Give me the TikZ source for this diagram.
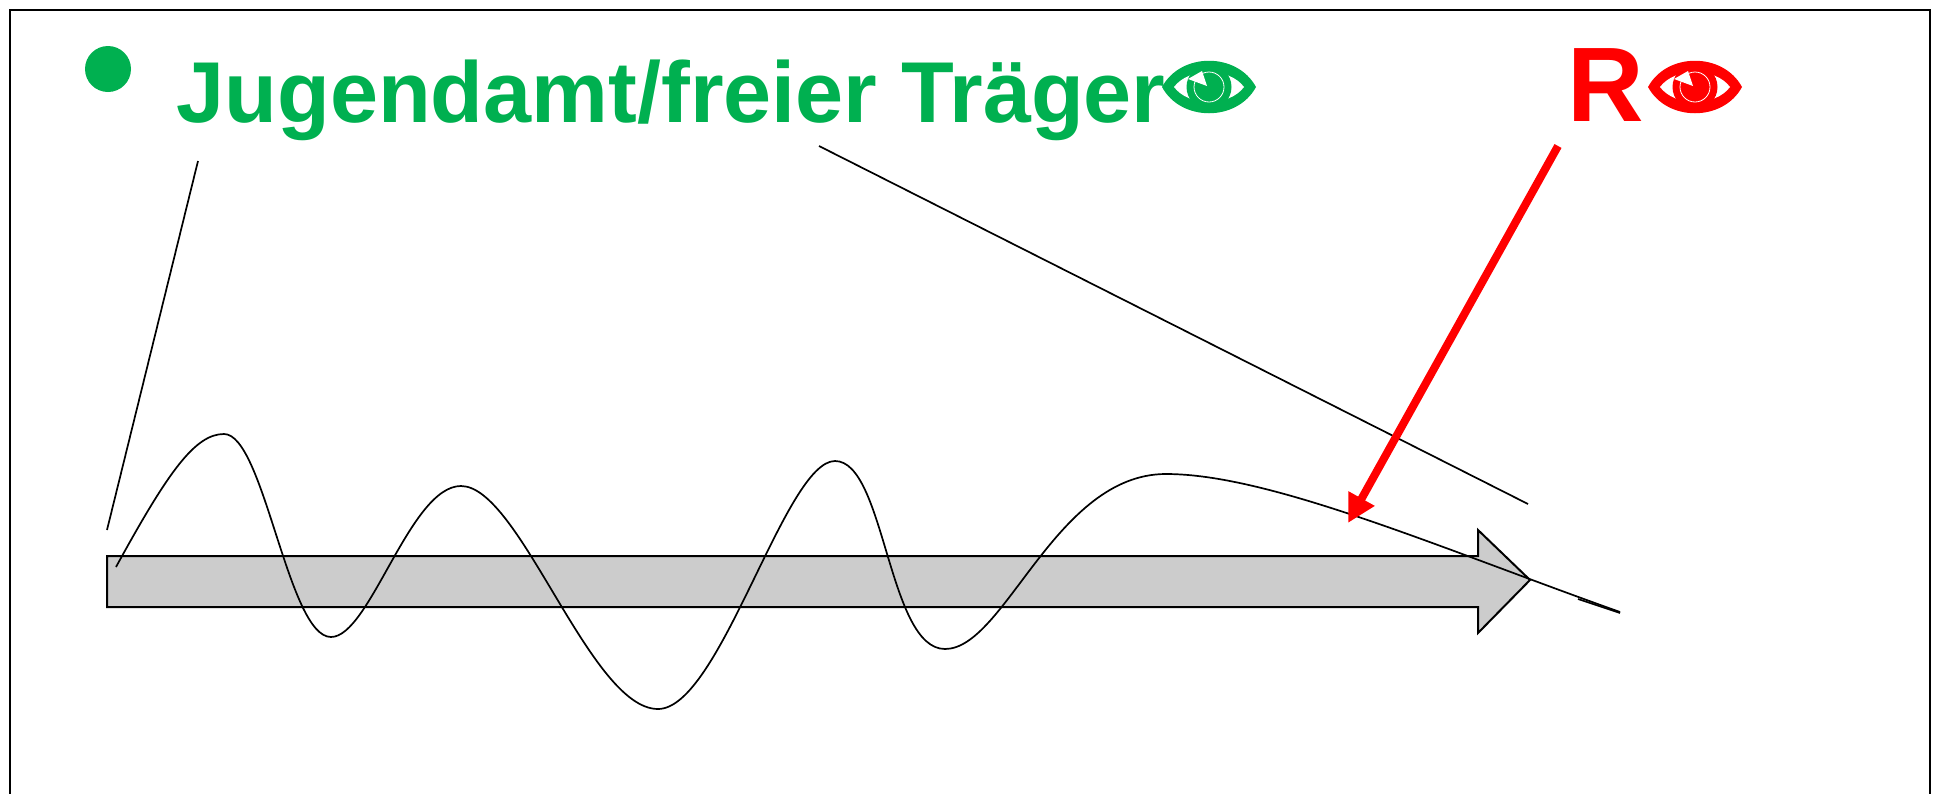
\documentclass[tikz,border=0pt]{standalone}
\usepackage{fontspec}
\setmainfont{Liberation Sans}
\usetikzlibrary{arrows.meta,calc}
\definecolor{traegergreen}{RGB}{0,176,80}

\tikzset{
  eyeicon/.pic={
    \fill[pic actions] (-47,0) .. controls (-28,-35) and (28,-35) .. (47,0)
      .. controls (28,35) and (-28,35) .. (-47,0) -- cycle;
    \fill[white] (-35,0) .. controls (-20,-20) and (20,-20) .. (35,0)
      .. controls (20,20) and (-20,20) .. (-35,0) -- cycle;
    \fill[pic actions] (0,0) circle (22.5);
    \fill[white] (-21,-8) -- (-7,-16) -- (-2,-1) -- cycle;
    \draw[white,line width=.4pt] (0,0) circle (15);
  }
}

\begin{document}
\begin{tikzpicture}[
  x=.5pt,y=-.5pt,>=Stealth,
  thinline/.style={black,line width=.85pt},
  bigarrow/.style={black,fill=black!20,line width=1pt,line join=miter},
  labeltext/.style={font=\bfseries\fontsize{43.2}{50}\selectfont,anchor=base west,inner sep=0pt}
]
\useasboundingbox (0,0) rectangle (1939,793);
% frame runs off below the page
\draw[black,line width=1.1pt] (10,800) -- (10,10) -- (1930,10) -- (1930,800);

\fill[traegergreen] (108,69) circle (23);
\node[labeltext,text=traegergreen] (traeger) at (176,122) {Jugendamt/freier Träger};
\pic[traegergreen] (greeneye) at (1209,87) {eyeicon};
\node[labeltext,text=red,font=\bfseries\fontsize{53}{60}\selectfont] (roleR) at (1567,121) {R};
\pic[red] (redeye) at (1695,87) {eyeicon};

\draw[bigarrow] (107,556) -- (1478,556) -- (1478,530) -- (1530,580)
  -- (1478,633) -- (1478,607) -- (107,607) -- cycle;

% the course over time
\draw[thinline] (116,567) .. controls (168,472) and (195,434) .. (224,434)
  .. controls (264,434) and (288,637) .. (331,637)
  .. controls (370,637) and (410,486) .. (461,486)
  .. controls (520,486) and (590,709) .. (658,709)
  .. controls (720,709) and (785,461) .. (835,461)
  .. controls (885,461) and (888,649) .. (945,649)
  .. controls (1005,649) and (1055,474) .. (1166,474)
  .. controls (1270,474) and (1440,548) .. (1620,612);
\draw[thinline] (1578,599) -- (1620,613);

\coordinate (leftA) at (198,161);
\coordinate (leftB) at (107,530);
\coordinate (rightA) at (819,146);
\coordinate (rightB) at (1528,504);
\coordinate (redA) at (1558,146);
\coordinate (redB) at (1348,523);
\draw[thinline] (leftA) -- (leftB);
\draw[thinline] (rightA) -- (rightB);
\draw[-{Triangle[length=14pt,width=14pt]},red,line width=4pt] (redA) -- (redB);
\end{tikzpicture}
\end{document}
